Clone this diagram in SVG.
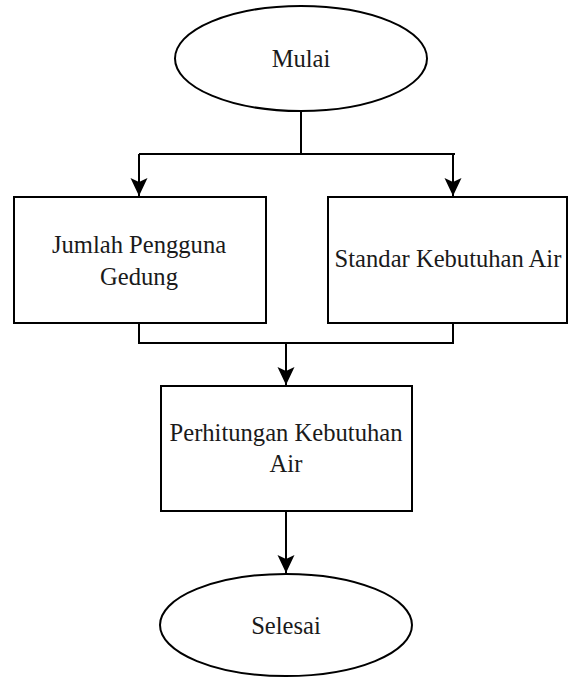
<svg xmlns="http://www.w3.org/2000/svg" width="568" height="677" viewBox="0 0 568 677">
<defs>
<style>
.shape{fill:#ffffff;stroke:#000000;stroke-width:2}
.conn{fill:none;stroke:#000000;stroke-width:2}
.lbl{font-family:"Liberation Serif","Times New Roman",serif;font-size:24.6px;fill:#1a1a1a;text-anchor:middle}
</style>
<marker id="arr" viewBox="0 0 20 20" refX="18" refY="10" markerWidth="20" markerHeight="20" markerUnits="userSpaceOnUse" orient="auto">
<path d="M18,10 L0,1.5 L4,10 L0,18.5 Z" fill="#000"/>
</marker>
</defs>
<rect width="568" height="677" fill="#ffffff"/>
<g id="connectors">
<path class="conn" d="M301,111 V154 M139,154 H455"/>
<path class="conn" d="M139,154 V196" marker-end="url(#arr)"/>
<path class="conn" d="M453,154 V196" marker-end="url(#arr)"/>
<path class="conn" d="M139,323 V343 H453 V323"/>
<path class="conn" d="M286,343 V385" marker-end="url(#arr)"/>
<path class="conn" d="M286,511 V573" marker-end="url(#arr)"/>
</g>
<g id="mulai">
<ellipse class="shape" cx="301" cy="58.5" rx="126" ry="52.5"/>
<text class="lbl" x="301" y="67">Mulai</text>
</g>
<g id="jumlah">
<rect class="shape" x="14" y="197" width="252" height="126"/>
<text class="lbl" x="139" y="253">Jumlah Pengguna</text>
<text class="lbl" x="139" y="285">Gedung</text>
</g>
<g id="standar">
<rect class="shape" x="328" y="197" width="239" height="126"/>
<text class="lbl" x="448" y="267">Standar Kebutuhan Air</text>
</g>
<g id="perhitungan">
<rect class="shape" x="161" y="386" width="251" height="125"/>
<text class="lbl" x="286" y="441">Perhitungan Kebutuhan</text>
<text class="lbl" x="286" y="472">Air</text>
</g>
<g id="selesai">
<ellipse class="shape" cx="286" cy="625" rx="126" ry="51"/>
<text class="lbl" x="286" y="634">Selesai</text>
</g>
</svg>
